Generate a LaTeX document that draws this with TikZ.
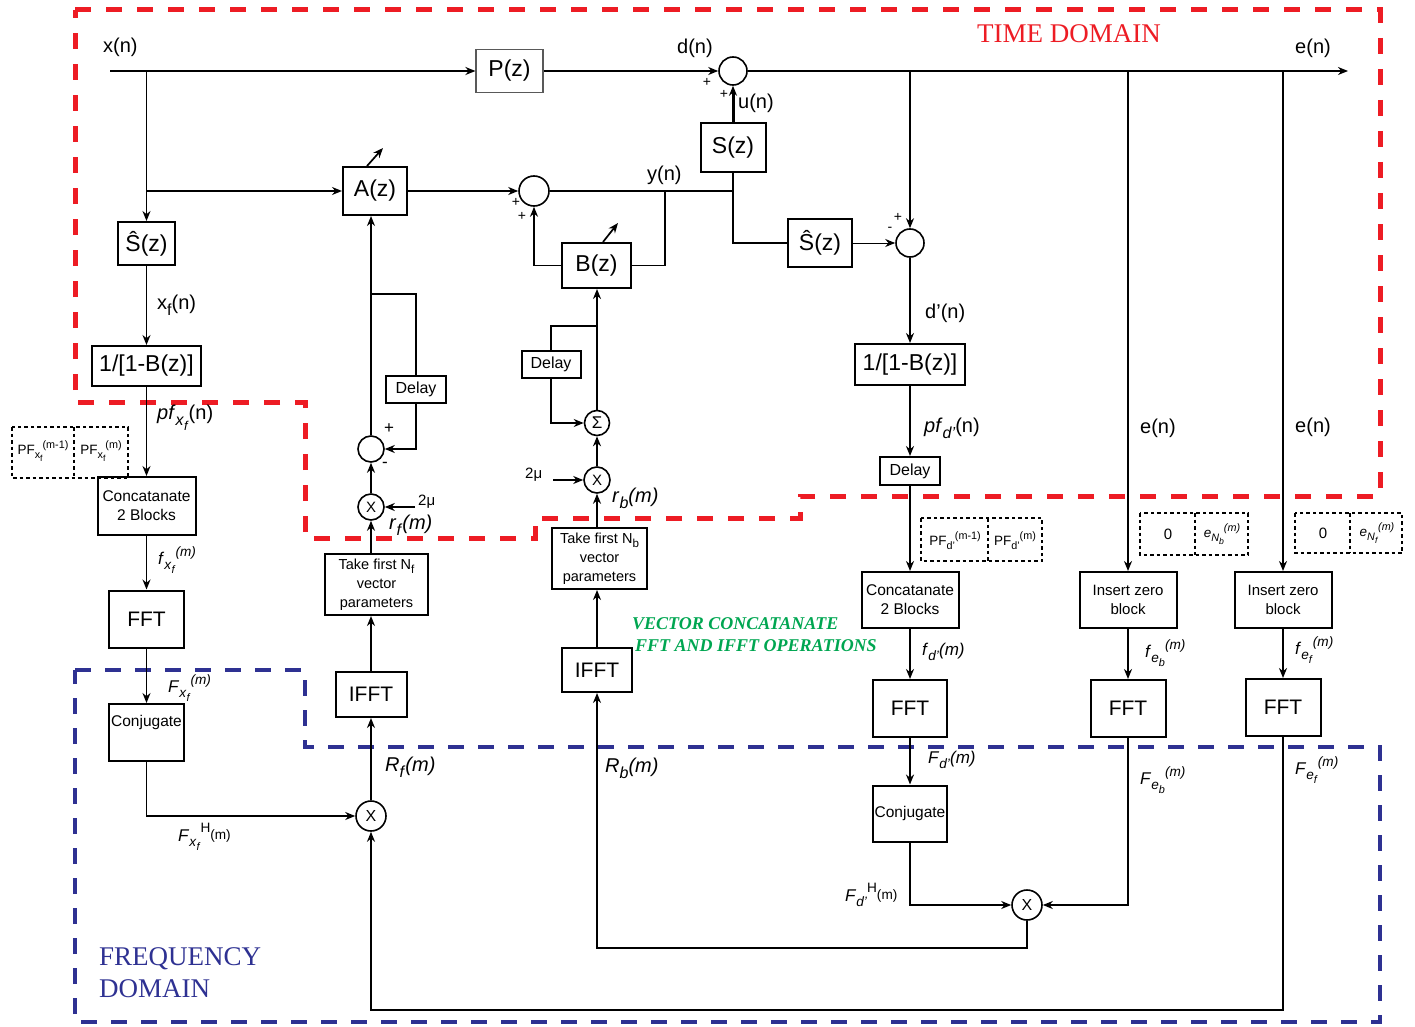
\documentclass[tikz,border=0pt]{standalone}
\usepackage{fontspec}
\usepackage{graphicx}
\setmainfont{Liberation Sans}
\newfontfamily\serifx{Liberation Serif}
\usetikzlibrary{arrows.meta}
\definecolor{tdred}{RGB}{237,28,36}
\definecolor{fdblue}{RGB}{46,49,146}
\definecolor{vgreen}{RGB}{0,166,81}
\newcommand{\dn}[1]{\raisebox{-0.3em}{\scalebox{0.8}{#1}}}
\newcommand{\up}[1]{\raisebox{0.45em}{\scalebox{0.8}{#1}}}
\newcommand{\hi}[1]{\raisebox{0.55em}{\scalebox{0.8}{#1}}}
\newcommand{\midr}[1]{\raisebox{0.12em}{\scalebox{0.8}{#1}}}
\newcommand{\fsz}[2]{\fontsize{#1}{#2}\selectfont}
\tikzset{
 blk/.style={draw, rectangle, line width=2pt, inner sep=0pt, align=center},
 crc/.style={draw, circle, line width=1.6pt, inner sep=0pt},
 ln/.style={line width=1.7pt},
 ar/.style={line width=1.7pt, -{Stealth[length=10pt,width=8pt]}},
 big/.style={font=\fsz{23}{27}},
 fftf/.style={font=\fsz{21}{24}},
 dlyf/.style={font=\fsz{16}{19}},
 lab/.style={anchor=west, inner sep=0pt, font=\fsz{20}{24}},
 sml/.style={anchor=west, inner sep=0pt, font=\fsz{17}{20}},
 pm/.style={inner sep=0pt, font=\fsz{14}{16}},
 dotbox/.style={draw, line width=1.6pt, dash pattern=on 3.5pt off 3pt},
 pff/.style={inner sep=0pt, font=\fsz{13.5}{15}},
 reddash/.style={draw=tdred, line width=5pt, dash pattern=on 16pt off 15pt},
 bluedash/.style={draw=fdblue, line width=4.5pt, dash pattern=on 16pt off 14pt},
}
\begin{document}
\begin{tikzpicture}[x=1pt,y=-1pt]
\useasboundingbox (0,0) rectangle (1415,1027);
% domains
\draw[reddash] (75,10) -- (1380,10) -- (1380,496) -- (800,496) -- (800,518) -- (535,518) -- (535,538) -- (305,538) -- (305,402) -- (75,402) -- cycle;
\draw[bluedash] (75,670) -- (305,670) -- (305,747) -- (1380,747) -- (1380,1022) -- (75,1022) -- cycle;
\node[font=\serifx\fsz{27}{30}, text=tdred, anchor=base west, inner sep=0pt] (td) at (977,43) {TIME DOMAIN};
\node[font=\serifx\fsz{27}{30}, text=fdblue, anchor=base west, inner sep=0pt] (fd1) at (99,965) {FREQUENCY};
\node[font=\serifx\fsz{27}{30}, text=fdblue, anchor=base west, inner sep=0pt] (fd2) at (99,997) {DOMAIN};
\node[font=\serifx\bfseries\itshape\fsz{18}{21}, text=vgreen, anchor=base west, inner sep=0pt] (g1) at (632,629) {VECTOR CONCATANATE};
\node[font=\serifx\bfseries\itshape\fsz{18}{21}, text=vgreen, anchor=base west, inner sep=0pt] (g2) at (635,651) {FFT AND IFFT OPERATIONS};

% blocks
\node[blk, draw=black!65, line width=1.2pt, minimum width=67pt, minimum height=43pt, big] (P) at (509.5,71) {P(z)};
\node[crc, minimum size=28pt] (s1) at (733,71) {};
\node[blk, minimum width=65pt, minimum height=49pt, big] (S) at (733,147.5) {S(z)};
\node[blk, minimum width=64pt, minimum height=48pt, big] (A) at (375,191) {A(z)};
\node[crc, minimum size=30pt] (s2) at (534,191) {};
\node[blk, minimum width=69pt, minimum height=45pt, big] (B) at (596.5,265.5) {B(z)};
\node[blk, minimum width=64pt, minimum height=48pt, big] (Shr) at (820,243) {Ŝ(z)};
\node[crc, minimum size=28pt] (s3) at (910,243) {};
\node[blk, minimum width=57pt, minimum height=43pt, big] (Shl) at (146.5,243.5) {Ŝ(z)};
\node[blk, minimum width=109pt, minimum height=40pt, big] (IB1) at (146.5,366) {1/[1-B(z)]};
\node[blk, minimum width=110pt, minimum height=41pt, big] (IB2) at (910,364.5) {1/[1-B(z)]};
\node[blk, minimum width=60pt, minimum height=27pt, dlyf] (DA) at (416,389.5) {Delay};
\node[blk, minimum width=59pt, minimum height=27pt, dlyf] (DB) at (551,364.5) {Delay};
\node[blk, minimum width=60pt, minimum height=28pt, dlyf] (DD) at (910,471) {Delay};
\node[crc, minimum size=26pt] (sA) at (371,449) {};
\node[crc, minimum size=26pt, font=\fsz{15}{17}] (mA) at (371,507) {X};
\node[crc, minimum size=25pt, font=\fsz{17}{19}] (sig) at (597,423) {Σ};
\node[crc, minimum size=26pt, font=\fsz{15}{17}] (mB) at (597,480) {X};
\node[crc, minimum size=30pt, font=\fsz{16}{18}] (mF) at (371,816) {X};
\node[crc, minimum size=30pt, font=\fsz{16}{18}] (mD) at (1027,905) {X};
\node[blk, minimum width=103pt, minimum height=61pt, font=\fsz{14.5}{19}] (TakeF) at (376.5,584.5) {Take first N\dn{f}\\vector\\parameters};
\node[blk, minimum width=95pt, minimum height=61pt, font=\fsz{14.5}{19}] (TakeB) at (599.5,558.5) {Take first N\dn{b}\\vector\\parameters};
\node[blk, minimum width=98pt, minimum height=58pt, font=\fsz{15.5}{19}] (Cat1) at (146.5,506) {Concatanate\\2 Blocks};
\node[blk, minimum width=97pt, minimum height=56pt, font=\fsz{15.5}{19}] (Cat2) at (910,600) {Concatanate\\2 Blocks};
\node[blk, minimum width=75pt, minimum height=57pt, fftf] (FFT1) at (146.5,619) {FFT};
\node[blk, minimum width=75pt, minimum height=57pt, font=\fsz{15.5}{18}] (Conj1) at (146.5,732.5) {Conjugate\\[6pt]};
\node[blk, minimum width=71pt, minimum height=45pt, fftf] (IFFTf) at (371,694.5) {IFFT};
\node[blk, minimum width=70pt, minimum height=44pt, fftf] (IFFTb) at (597,670) {IFFT};
\node[blk, minimum width=74pt, minimum height=57pt, fftf] (FFTd) at (910,708.5) {FFT};
\node[blk, minimum width=74pt, minimum height=56pt, font=\fsz{15.5}{18}] (Conjd) at (910,813.5) {Conjugate};
\node[blk, minimum width=97pt, minimum height=56pt, font=\fsz{15}{19}] (IZb) at (1128,600) {Insert zero\\block};
\node[blk, minimum width=97pt, minimum height=56pt, font=\fsz{15}{19}] (IZf) at (1283,600) {Insert zero\\block};
\node[blk, minimum width=75pt, minimum height=57pt, fftf] (FFTb) at (1128,708.5) {FFT};
\node[blk, minimum width=75pt, minimum height=57pt, fftf] (FFTf) at (1283,707.5) {FFT};

% coordinates
\coordinate (xin) at (110,71);
\coordinate (eout) at (1348,71);
\coordinate (jx1) at (146.5,71);
\coordinate (jx2) at (146.5,191);
\coordinate (je1) at (910,71);
\coordinate (je2) at (1128,71);
\coordinate (je3) at (1283,71);
\coordinate (jy) at (665,191);
\coordinate (jS) at (733,191);
\coordinate (jA) at (371,294);
\coordinate (jB) at (597,326);
\coordinate (bf) at (371,1010);
\coordinate (bb) at (597,948);
\coordinate (mu1) at (415,507);
\coordinate (mu2) at (553,480);

% connectors
\draw[ar] (xin) -- (P.west);
\draw[ar] (P.east) -- (s1.west);
\draw[ar] (s1.east) -- (eout);
\draw[ar] (jx1) -- (Shl.north);
\draw[ar] (jx2) -- (A.west);
\draw[ar] (A.east) -- (s2.west);
\draw[ln] (s2.east) -- (jS);
\draw[ln] (S.south) |- (Shr.west);
\draw[line width=3pt, -{Stealth[length=10pt,width=8pt]}] (S.north) -- (s1.south);
\draw[ln] (jy) |- (B.east);
\draw[ar] (B.west) -| (s2.south);
\draw[line width=1pt, -{Stealth[length=10pt,width=8pt]}] (Shr.east) -- (s3.west);
\draw[ar] (je1) -- (s3.north);
\draw[ar] (s3.south) -- (IB2.north);
\draw[ar] (IB2.south) -- (DD.north);
\draw[ar] (DD.south) -- (Cat2.north);
\draw[ar] (Cat2.south) -- (FFTd.north);
\draw[ar] (FFTd.south) -- (Conjd.north);
\draw[ar] (Conjd.south) |- (mD.west);
\draw[ar] (je2) -- (IZb.north);
\draw[ar] (IZb.south) -- (FFTb.north);
\draw[ar] (FFTb.south) |- (mD.east);
\draw[ar] (je3) -- (IZf.north);
\draw[ar] (IZf.south) -- (FFTf.north);
\draw[ar] (FFTf.south) |- (bf) -- (mF.south);
\draw[ar] (mD.south) |- (bb) -- (IFFTb.south);
\draw[ar] (IFFTb.north) -- (IFFTb.north |- TakeB.south);
\draw[ar] (TakeB.north -| mB.south) -- (mB.south);
\draw[ar] (mB.north) -- (sig.south);
\draw[ar] (sig.north) -- (sig.north |- B.south);
\draw[ln] (jB) -| (DB.north);
\draw[ar] (DB.south) |- (sig.west);
\draw[ar] (mu2) -- (mB.west);
\draw[ar] (Shl.south) -- (IB1.north);
\draw[ar] (IB1.south) -- (Cat1.north);
\draw[ar] (Cat1.south) -- (FFT1.north);
\draw[ar] (FFT1.south) -- (Conj1.north);
\draw[ar] (Conj1.south) |- (mF.west);
\draw[ar] (mF.north) -- (IFFTf.south);
\draw[ar] (IFFTf.north) -- (IFFTf.north |- TakeF.south);
\draw[ar] (TakeF.north -| mA.south) -- (mA.south);
\draw[ar] (mA.north) -- (sA.south);
\draw[ar] (sA.north) -- (sA.north |- A.south);
\draw[ln] (jA) -| (DA.north);
\draw[ar] (DA.south) |- (sA.east);
\draw[ar] (mu1) -- (mA.east);
\draw[ar] ([xshift=-8pt]A.north) -- ++(16,-18);
\draw[ar] ([xshift=6.5pt]B.north) -- ++(15,-19);

% dotted boxes
\draw[dotbox] (12,427) rectangle (128,478);
\draw[dotbox] (74,427) -- (74,478);
\node[pff] (pfa) at (43,451) {PF\dn{x\dn{f}}\up{(m-1)}};
\node[pff] (pfb) at (101,451) {PF\dn{x\dn{f}}\up{(m)}};
\draw[dotbox] (921,518) rectangle (1042,561);
\draw[dotbox] (988,518) -- (988,561);
\node[pff] (pfc) at (955,541) {PF\dn{d’}\up{(m-1)}};
\node[pff] (pfd) at (1015,541) {PF\dn{d’}\up{(m)}};
\draw[dotbox] (1140,513) rectangle (1248,555);
\draw[dotbox] (1195,513) -- (1195,555);
\node[inner sep=0pt, font=\fsz{15}{17}] (z1) at (1168,534) {0};
\node[pff] (enb) at (1222,534) {\textit{e}\dn{\textit{N}\dn{\textit{b}}}\up{\textit{(m)}}};
\draw[dotbox] (1295,513) rectangle (1402,553);
\draw[dotbox] (1350,513) -- (1350,553);
\node[inner sep=0pt, font=\fsz{15}{17}] (z2) at (1323,533) {0};
\node[pff] (enf) at (1377,533) {\textit{e}\dn{\textit{N}\dn{\textit{f}}}\up{\textit{(m)}}};

% labels
\node[lab] (lx) at (103,47) {x(n)};
\node[lab] (ld) at (677,48) {d(n)};
\node[lab] (le) at (1295,48) {e(n)};
\node[lab] (lu) at (738,103) {u(n)};
\node[lab] (ly) at (647,175) {y(n)};
\node[lab] (lxf) at (157,305) {x\dn{f}(n)};
\node[lab] (lpfx) at (157,418) {\textit{pf}\dn{\textit{x}\dn{\textit{f}}}(n)};
\node[lab] (ldp) at (925,313) {d’(n)};
\node[lab] (lpfd) at (924,428) {\textit{pf}\dn{\textit{d’}}(n)};
\node[lab] (le2) at (1140,428) {e(n)};
\node[lab] (le3) at (1295,427) {e(n)};
\node[sml, font=\fsz{15}{17}] (lmu1) at (418,502) {2μ};
\node[sml, font=\fsz{15}{17}] (lmu2) at (525,475) {2μ};
\node[lab] (lrf) at (389,525) {\textit{r}\dn{\textit{f}}\textit{(m)}};
\node[lab] (lrb) at (612,498) {\textit{r}\dn{\textit{b}}\textit{(m)}};
\node[sml] (lfx) at (158,560) {\textit{f}\dn{\textit{x}\dn{\textit{f}}}\up{\textit{(m)}}};
\node[sml] (lFx) at (168,688) {\textit{F}\dn{\textit{x}\dn{\textit{f}}}\up{\textit{(m)}}};
\node[lab] (lRf) at (385,767) {\textit{R}\dn{\textit{f}}\textit{(m)}};
\node[sml] (lFxH) at (178,837) {\textit{F}\dn{\textit{x}\dn{\textit{f}}}\hi{H}\midr{(m)}};
\node[lab] (lRb) at (605,768) {\textit{R}\dn{\textit{b}}\textit{(m)}};
\node[sml] (lfd) at (922,652) {\textit{f}\dn{\textit{d’}}\textit{(m)}};
\node[sml] (lFd) at (928,760) {\textit{F}\dn{\textit{d’}}\textit{(m)}};
\node[sml] (lFdH) at (845,895) {\textit{F}\dn{\textit{d’}}\hi{H}\midr{(m)}};
\node[sml] (lfeb) at (1145,653) {\textit{f}\dn{\textit{e}\dn{\textit{b}}}\up{\textit{(m)}}};
\node[sml] (lFeb) at (1140,780) {\textit{F}\dn{\textit{e}\dn{\textit{b}}}\up{\textit{(m)}}};
\node[sml] (lfef) at (1295,650) {\textit{f}\dn{\textit{e}\dn{\textit{f}}}\up{\textit{(m)}}};
\node[sml] (lFef) at (1295,770) {\textit{F}\dn{\textit{e}\dn{\textit{f}}}\up{\textit{(m)}}};

% signs
\node[pm] (p1) at (707,82) {+};
\node[pm] (p2) at (724,94) {+};
\node[pm] (p3) at (516,202) {+};
\node[pm] (p4) at (522,216) {+};
\node[pm] (p5) at (898,217) {+};
\node[pm] (p6) at (890,229) {-};
\node[pm, font=\fsz{17}{19}] (p7) at (389,429) {+};
\node[pm, font=\fsz{17}{19}] (p8) at (385,465) {-};
\end{tikzpicture}
\end{document}
